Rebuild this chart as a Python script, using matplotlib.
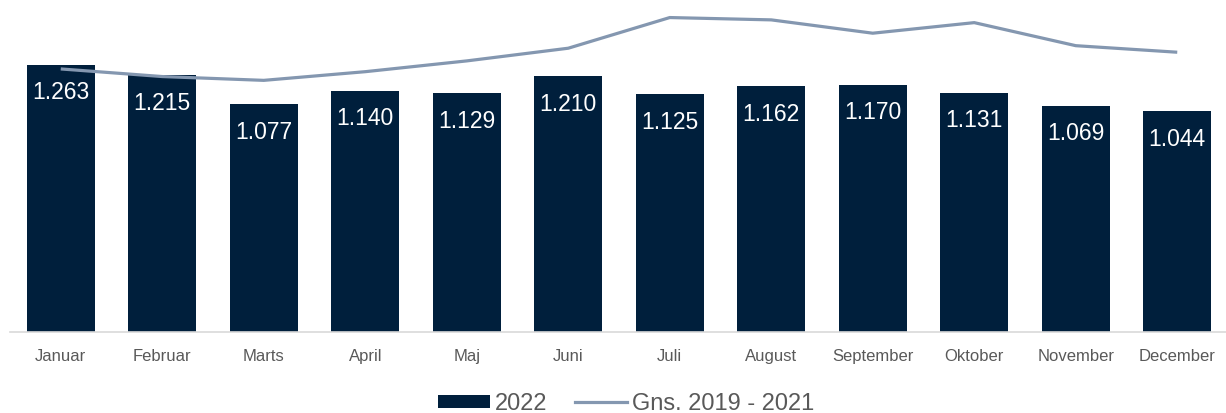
import matplotlib
matplotlib.use('Agg')
import matplotlib.pyplot as plt
from matplotlib.patches import Patch
from matplotlib.lines import Line2D

months = ['Januar', 'Februar', 'Marts', 'April', 'Maj', 'Juni', 'Juli',
          'August', 'September', 'Oktober', 'November', 'December']
values_2022 = [1263, 1215, 1077, 1140, 1129, 1210, 1125, 1162, 1170, 1131, 1069, 1044]
avg_2019_2021 = [1244, 1208, 1190, 1231, 1282, 1342, 1487, 1476, 1413, 1463, 1354, 1323]

BAR_COLOR = '#001F3C'
LINE_COLOR = '#8497B0'
TEXT_COLOR = '#595959'

plt.rcParams['font.family'] = ['Liberation Sans', 'DejaVu Sans']

fig = plt.figure(figsize=(12.26, 4.13), dpi=100)
ax = fig.add_axes([10 / 1226, 81 / 413, 1218 / 1226, 332 / 413])

x = list(range(len(months)))
ax.bar(x, values_2022, width=0.67, color=BAR_COLOR, zorder=2)
ax.plot(x, avg_2019_2021, color=LINE_COLOR, linewidth=2.3, zorder=3,
        solid_capstyle='butt')

# value labels sit inside the top of each bar
for xi, v in zip(x, values_2022):
    ax.annotate('{:.3f}'.format(v / 1000), (xi, v), xytext=(0, -28),
                textcoords='offset pixels', ha='center', va='center',
                color='white', fontsize=16.5, zorder=4)

ax.set_xlim(-0.5, len(months) - 0.5)
ax.set_ylim(0, 1570)
ax.set_xticks(x)
ax.set_xticklabels(months, color=TEXT_COLOR, fontsize=12)
ax.tick_params(axis='x', length=0, pad=12)
ax.set_yticks([])
for side in ['top', 'right', 'left']:
    ax.spines[side].set_visible(False)
ax.spines['bottom'].set_color('#D9D9D9')
ax.spines['bottom'].set_linewidth(1.2)

handles = [Patch(facecolor=BAR_COLOR, edgecolor='none'),
           Line2D([0], [0], color=LINE_COLOR, linewidth=2.3)]
leg = fig.legend(handles, ['2022', 'Gns. 2019 - 2021'], loc='center',
                 bbox_to_anchor=(626 / 1226, 1 - 404 / 413), ncol=2,
                 frameon=False, fontsize=17, handlelength=2.2,
                 handleheight=0.5, handletextpad=0.2, columnspacing=1.2,
                 borderpad=0)
for t in leg.get_texts():
    t.set_color(TEXT_COLOR)

fig.savefig('out.png', dpi=100)
